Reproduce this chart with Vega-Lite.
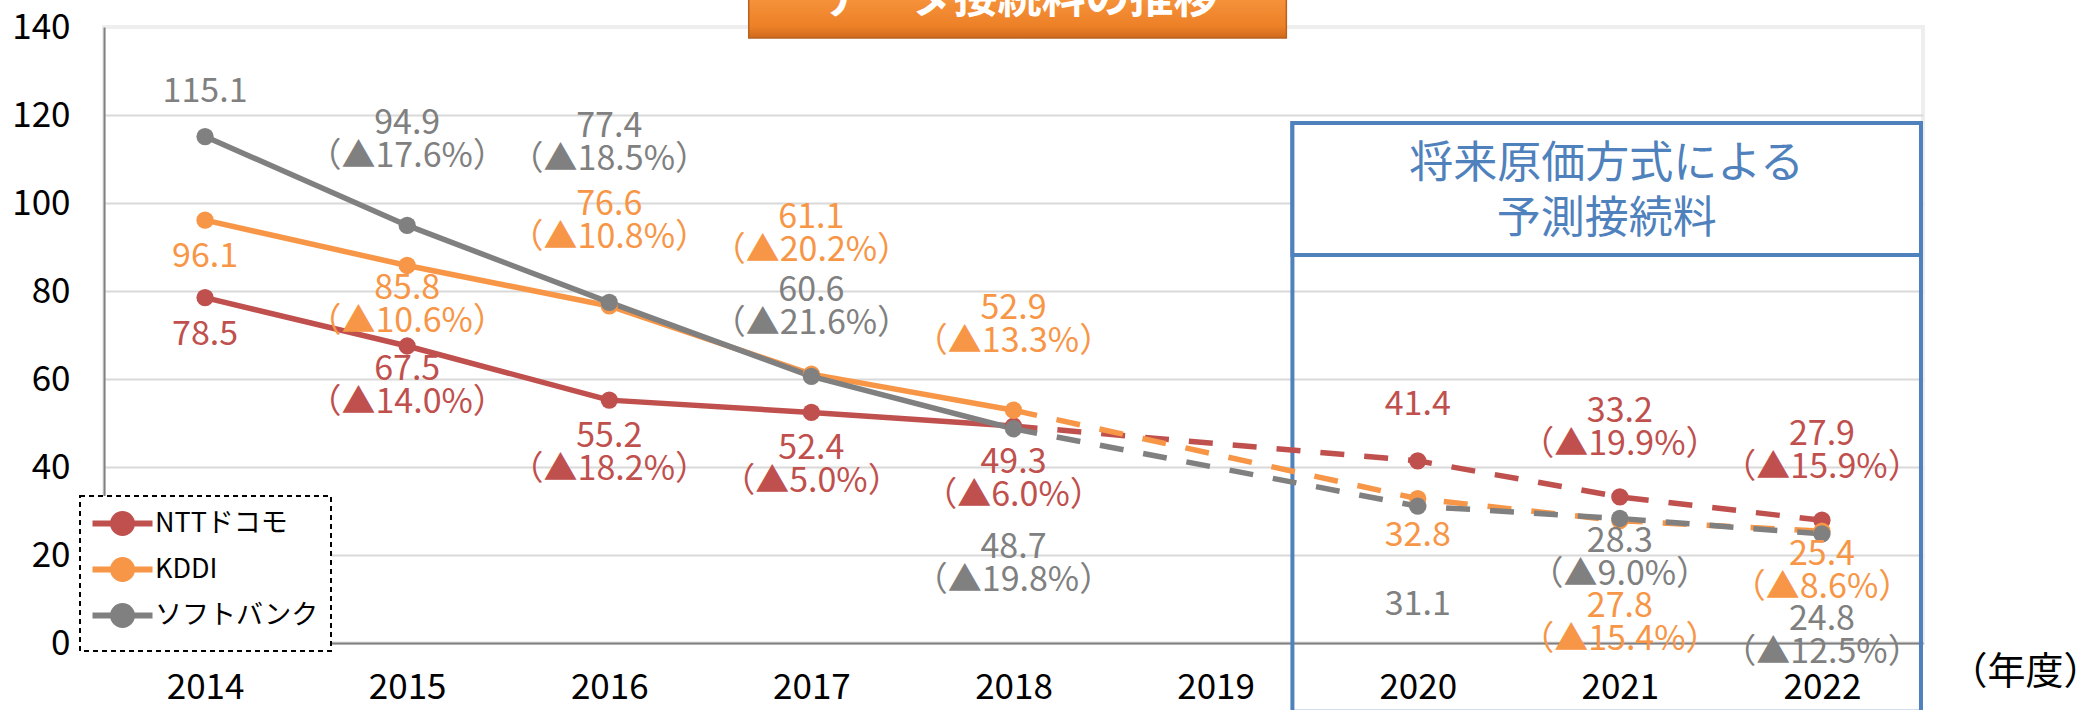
{
  "$schema": "https://vega.github.io/schema/vega-lite/v6.json",
  "width": 1819,
  "height": 616,
  "autosize": {"type": "none"},
  "padding": {"left": 104, "top": 27, "right": 161, "bottom": 67},
  "background": "white",
  "config": {
    "font": "Noto Sans CJK JP",
    "view": {"stroke": "#eeeeee", "strokeWidth": 4},
    "text": {"font": "Noto Sans CJK JP", "fontSize": 34, "lineHeight": 33, "lineBreak": "\n", "align": "center", "baseline": "middle"},
    "legend": {
      "orient": "none",
      "legendX": -24,
      "legendY": 469,
      "direction": "vertical",
      "fillColor": "white",
      "strokeColor": "black",
      "strokeDash": [5, 4],
      "strokeWidth": 2,
      "padding": 14,
      "labelFont": "Noto Sans CJK JP",
      "labelFontSize": 27,
      "labelColor": "black",
      "labelLimit": 400,
      "labelOffset": 34,
      "symbolType": "M-1.5,0H4.5M0.55,0A0.95,0.95,0,1,0,2.45,0A0.95,0.95,0,1,0,0.55,0Z",
      "symbolSize": 400,
      "symbolStrokeWidth": 6,
      "rowPadding": 3
    }
  },
  "data": {
    "values": [
      {"company": "NTTドコモ", "year": 2014, "value": 78.5, "pct": null},
      {"company": "NTTドコモ", "year": 2015, "value": 67.5, "pct": 14.0},
      {"company": "NTTドコモ", "year": 2016, "value": 55.2, "pct": 18.2},
      {"company": "NTTドコモ", "year": 2017, "value": 52.4, "pct": 5.0},
      {"company": "NTTドコモ", "year": 2018, "value": 49.3, "pct": 6.0},
      {"company": "NTTドコモ", "year": 2020, "value": 41.4, "pct": null},
      {"company": "NTTドコモ", "year": 2021, "value": 33.2, "pct": 19.9},
      {"company": "NTTドコモ", "year": 2022, "value": 27.9, "pct": 15.9},
      {"company": "KDDI", "year": 2014, "value": 96.1, "pct": null},
      {"company": "KDDI", "year": 2015, "value": 85.8, "pct": 10.6},
      {"company": "KDDI", "year": 2016, "value": 76.6, "pct": 10.8},
      {"company": "KDDI", "year": 2017, "value": 61.1, "pct": 20.2},
      {"company": "KDDI", "year": 2018, "value": 52.9, "pct": 13.3},
      {"company": "KDDI", "year": 2020, "value": 32.8, "pct": null},
      {"company": "KDDI", "year": 2021, "value": 27.8, "pct": 15.4},
      {"company": "KDDI", "year": 2022, "value": 25.4, "pct": 8.6},
      {"company": "ソフトバンク", "year": 2014, "value": 115.1, "pct": null},
      {"company": "ソフトバンク", "year": 2015, "value": 94.9, "pct": 17.6},
      {"company": "ソフトバンク", "year": 2016, "value": 77.4, "pct": 18.5},
      {"company": "ソフトバンク", "year": 2017, "value": 60.6, "pct": 21.6},
      {"company": "ソフトバンク", "year": 2018, "value": 48.7, "pct": 19.8},
      {"company": "ソフトバンク", "year": 2020, "value": 31.1, "pct": null},
      {"company": "ソフトバンク", "year": 2021, "value": 28.3, "pct": 9.0},
      {"company": "ソフトバンク", "year": 2022, "value": 24.8, "pct": 12.5}
    ]
  },
  "transform": [
    {"calculate": "format(datum.value, '.1f') + (isValid(datum.pct) ? '\\n（▲' + format(datum.pct, '.1f') + '%）' : '')", "as": "lbl"},
    {"calculate": "datum.company + datum.year", "as": "key"}
  ],
  "layer": [
    {
      "data": {"values": [{}]},
      "mark": {"type": "rect", "fill": null, "fillOpacity": 0, "stroke": "#4f81bd", "strokeWidth": 4},
      "encoding": {
        "x": {"datum": 2019.38, "type": "quantitative"},
        "x2": {"datum": 2022.49},
        "y": {"datum": 118.2, "type": "quantitative"},
        "y2": {"datum": -15.6}
      }
    },
    {
      "data": {"values": [{}]},
      "mark": {"type": "rect", "fill": "white", "stroke": "#4f81bd", "strokeWidth": 4},
      "encoding": {
        "x": {"datum": 2019.38, "type": "quantitative"},
        "x2": {"datum": 2022.49},
        "y": {"datum": 118.2, "type": "quantitative"},
        "y2": {"datum": 88.2}
      }
    },
    {
      "data": {"values": [{"t": "将来原価方式による\n予測接続料"}]},
      "mark": {"type": "text", "fontSize": 44, "lineHeight": 55, "color": "#4f81bd", "font": "Noto Sans CJK JP"},
      "encoding": {
        "x": {"datum": 2020.935, "type": "quantitative"},
        "y": {"datum": 108.6, "type": "quantitative"},
        "text": {"field": "t"}
      }
    },
    {
      "transform": [{"filter": "datum.year <= 2018"}],
      "mark": {"type": "line", "strokeWidth": 5.5, "strokeJoin": "round"},
      "encoding": {
        "x": {
          "field": "year", "type": "quantitative",
          "scale": {"domain": [2013.5, 2022.5], "nice": false, "zero": false},
          "axis": {
            "values": [2014, 2015, 2016, 2017, 2018, 2019, 2020, 2021, 2022],
            "format": "d", "grid": false, "ticks": false,
            "domainColor": "#808080", "domainWidth": 2,
            "labelFontSize": 35, "labelColor": "black", "labelPadding": 44,
            "labelBaseline": "middle", "labelFlush": false, "labelOverlap": false,
            "labelFont": "Noto Sans CJK JP",
            "title": "（年度）", "titleFontSize": 38, "titleFontWeight": "normal",
            "titleColor": "black", "titleFont": "Noto Sans CJK JP",
            "titleX": 1845, "titleY": 29, "titleAlign": "left", "titleBaseline": "middle", "titleAnchor": "start"
          }
        },
        "y": {
          "field": "value", "type": "quantitative",
          "scale": {"domain": [0, 140], "nice": false},
          "axis": {
            "values": [0, 20, 40, 60, 80, 100, 120, 140],
            "title": null, "grid": true,
            "gridColor": {"condition": {"test": "datum.value === 140", "value": "#eeeeee"}, "value": "#d9d9d9"},
            "gridWidth": 2,
            "domainColor": "#808080", "domainWidth": 2, "ticks": false,
            "labelPadding": 34, "labelFontSize": 35, "labelColor": "black",
            "labelFont": "Noto Sans CJK JP"
          }
        },
        "color": {
          "field": "company", "type": "nominal",
          "scale": {"domain": ["NTTドコモ", "KDDI", "ソフトバンク"], "range": ["#c0504d", "#f79646", "#808080"]},
          "sort": ["NTTドコモ", "KDDI", "ソフトバンク"],
          "legend": {"title": null}
        }
      }
    },
    {
      "transform": [{"filter": "datum.year >= 2018"}],
      "mark": {"type": "line", "strokeWidth": 5.5, "strokeDash": [24, 20], "strokeCap": "butt"},
      "encoding": {
        "x": {"field": "year", "type": "quantitative"},
        "y": {"field": "value", "type": "quantitative"},
        "color": {"field": "company", "type": "nominal"}
      }
    },
    {
      "mark": {"type": "point", "filled": true, "size": 300, "opacity": 1},
      "encoding": {
        "x": {"field": "year", "type": "quantitative"},
        "y": {"field": "value", "type": "quantitative"},
        "color": {"field": "company", "type": "nominal"}
      }
    },
    {
      "transform": [{"filter": {"field": "key", "oneOf": ["KDDI2014", "KDDI2020", "NTTドコモ2014", "NTTドコモ2016", "NTTドコモ2017", "NTTドコモ2018"]}}],
      "mark": {"type": "text", "dy": 37},
      "encoding": {"x": {"field": "year", "type": "quantitative"}, "y": {"field": "value", "type": "quantitative"}, "color": {"field": "company", "type": "nominal"}, "text": {"field": "lbl"}}
    },
    {
      "transform": [{"filter": {"field": "key", "oneOf": ["KDDI2015", "KDDI2022", "NTTドコモ2015", "ソフトバンク2021"]}}],
      "mark": {"type": "text", "dy": 24},
      "encoding": {"x": {"field": "year", "type": "quantitative"}, "y": {"field": "value", "type": "quantitative"}, "color": {"field": "company", "type": "nominal"}, "text": {"field": "lbl"}}
    },
    {
      "transform": [{"filter": {"field": "key", "oneOf": ["ソフトバンク2022", "KDDI2021"]}}],
      "mark": {"type": "text", "dy": 86},
      "encoding": {"x": {"field": "year", "type": "quantitative"}, "y": {"field": "value", "type": "quantitative"}, "color": {"field": "company", "type": "nominal"}, "text": {"field": "lbl"}}
    },
    {
      "transform": [{"filter": {"field": "key", "oneOf": ["ソフトバンク2020"]}}],
      "mark": {"type": "text", "dy": 99},
      "encoding": {"x": {"field": "year", "type": "quantitative"}, "y": {"field": "value", "type": "quantitative"}, "color": {"field": "company", "type": "nominal"}, "text": {"field": "lbl"}}
    },
    {
      "transform": [{"filter": {"field": "key", "oneOf": ["ソフトバンク2018"]}}],
      "mark": {"type": "text", "dy": 119},
      "encoding": {"x": {"field": "year", "type": "quantitative"}, "y": {"field": "value", "type": "quantitative"}, "color": {"field": "company", "type": "nominal"}, "text": {"field": "lbl"}}
    },
    {
      "transform": [{"filter": {"field": "key", "oneOf": ["ソフトバンク2014"]}}],
      "mark": {"type": "text", "dy": -45},
      "encoding": {"x": {"field": "year", "type": "quantitative"}, "y": {"field": "value", "type": "quantitative"}, "color": {"field": "company", "type": "nominal"}, "text": {"field": "lbl"}}
    },
    {
      "transform": [{"filter": {"field": "key", "oneOf": ["NTTドコモ2020"]}}],
      "mark": {"type": "text", "dy": -56},
      "encoding": {"x": {"field": "year", "type": "quantitative"}, "y": {"field": "value", "type": "quantitative"}, "color": {"field": "company", "type": "nominal"}, "text": {"field": "lbl"}}
    },
    {
      "transform": [{"filter": {"field": "key", "oneOf": ["ソフトバンク2017", "NTTドコモ2021", "NTTドコモ2022"]}}],
      "mark": {"type": "text", "dy": -85},
      "encoding": {"x": {"field": "year", "type": "quantitative"}, "y": {"field": "value", "type": "quantitative"}, "color": {"field": "company", "type": "nominal"}, "text": {"field": "lbl"}}
    },
    {
      "transform": [{"filter": {"field": "key", "oneOf": ["ソフトバンク2015", "KDDI2016", "KDDI2018"]}}],
      "mark": {"type": "text", "dy": -101},
      "encoding": {"x": {"field": "year", "type": "quantitative"}, "y": {"field": "value", "type": "quantitative"}, "color": {"field": "company", "type": "nominal"}, "text": {"field": "lbl"}}
    },
    {
      "transform": [{"filter": {"field": "key", "oneOf": ["KDDI2017"]}}],
      "mark": {"type": "text", "dy": -156},
      "encoding": {"x": {"field": "year", "type": "quantitative"}, "y": {"field": "value", "type": "quantitative"}, "color": {"field": "company", "type": "nominal"}, "text": {"field": "lbl"}}
    },
    {
      "transform": [{"filter": {"field": "key", "oneOf": ["ソフトバンク2016"]}}],
      "mark": {"type": "text", "dy": -175},
      "encoding": {"x": {"field": "year", "type": "quantitative"}, "y": {"field": "value", "type": "quantitative"}, "color": {"field": "company", "type": "nominal"}, "text": {"field": "lbl"}}
    },
    {
      "data": {"values": [{}]},
      "mark": {
        "type": "rect",
        "stroke": "#b8621e",
        "strokeWidth": 1.5,
        "fill": {
          "gradient": "linear", "x1": 0, "y1": 0, "x2": 0, "y2": 1,
          "stops": [
            {"offset": 0, "color": "#fbb36b"},
            {"offset": 0.5, "color": "#f5923a"},
            {"offset": 0.85, "color": "#ec8027"},
            {"offset": 1, "color": "#cf6a1c"}
          ]
        }
      },
      "encoding": {
        "x": {"datum": 2016.69, "type": "quantitative"},
        "x2": {"datum": 2019.35},
        "y": {"datum": 137.5, "type": "quantitative"},
        "y2": {"datum": 155}
      }
    },
    {
      "data": {"values": [{"t": "データ接続料の推移"}]},
      "mark": {"type": "text", "fontSize": 44, "fontWeight": "bold", "color": "white", "font": "Noto Sans CJK JP"},
      "encoding": {
        "x": {"datum": 2018.03, "type": "quantitative"},
        "y": {"datum": 146.2, "type": "quantitative"},
        "text": {"field": "t"}
      }
    }
  ]
}
